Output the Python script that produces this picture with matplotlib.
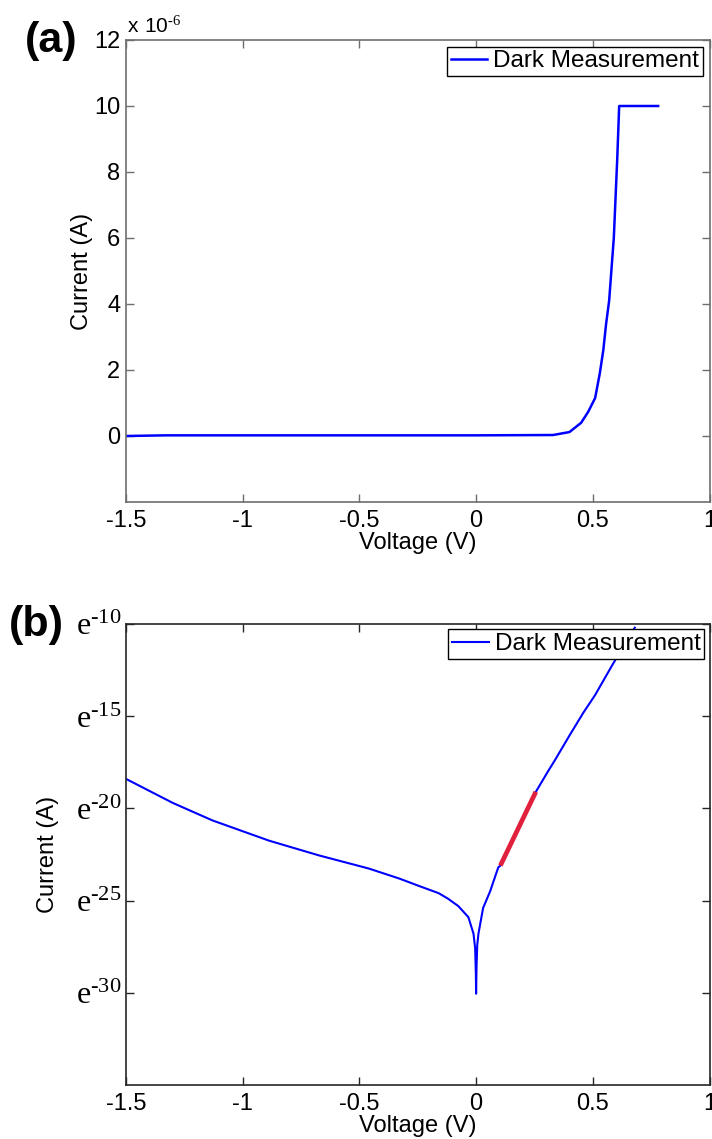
import numpy as np
import matplotlib
matplotlib.use("Agg")
import matplotlib.pyplot as plt

plt.rcParams['font.family'] = ['Liberation Sans', 'DejaVu Sans']
plt.rcParams['axes.unicode_minus'] = False
plt.rcParams['mathtext.fontset'] = 'custom'
plt.rcParams['mathtext.rm'] = 'Liberation Serif'
plt.rcParams['mathtext.sf'] = 'Liberation Sans'

# ---- data (a): linear current, units of 1e-6 A ----
volt_a = [-1.5, -1.33, -1.0, -0.5, 0.0, 0.33, 0.40, 0.45, 0.48, 0.51, 0.53,
          0.545, 0.557, 0.57, 0.59, 0.605, 0.613, 0.70, 0.78]
curr_a = [0.0, 0.02, 0.02, 0.02, 0.02, 0.03, 0.12, 0.40, 0.73, 1.15, 1.90,
          2.60, 3.40, 4.10, 6.0, 8.45, 10.0, 10.0, 10.0]

# ---- data (b): natural log of |current| ----
volt_b = [-1.5, -1.3, -1.13, -0.887, -0.673, -0.46, -0.33, -0.246, -0.16,
          -0.12, -0.076, -0.033, -0.011, -0.004, -0.001, 0.0, 0.002, 0.005,
          0.01, 0.03, 0.06, 0.095, 0.104, 0.18, 0.256, 0.31, 0.337, 0.40,
          0.46, 0.51, 0.587, 0.68]
lncurr_b = [-18.4, -19.7, -20.65, -21.75, -22.55, -23.26, -23.8, -24.2, -24.6,
            -24.9, -25.3, -25.9, -26.8, -27.6, -29.0, -30.05, -28.5, -27.4,
            -26.8, -25.4, -24.5, -23.2, -23.1, -21.1, -19.1, -17.95, -17.4,
            -16.05, -14.8, -13.85, -12.15, -10.2]
fit_volt = [0.104, 0.256]
fit_lncurr = [-23.1, -19.1]

xticks = [-1.5, -1, -0.5, 0, 0.5, 1]
xticklabels = ['-1.5', '-1', '-0.5', '0', '0.5', '1']
yticks_a = [0, 2, 4, 6, 8, 10, 12]
yticks_b = [-30, -25, -20, -15, -10]

W, H = 712, 1139
fig = plt.figure(figsize=(W / 100, H / 100), dpi=100)

def box(l, t, r, b):
    return [l / W, 1 - b / H, (r - l) / W, (b - t) / H]

ax1 = fig.add_axes(box(126, 40, 709.5, 502))
ax2 = fig.add_axes(box(126, 624, 709.5, 1085))

blue = '#0000ff'
ax1.plot(volt_a, curr_a, color=blue, lw=1.8, label='Dark Measurement')
ax2.plot(volt_b, lncurr_b, color=blue, lw=1.5, label='Dark Measurement')
ax2.plot(fit_volt, fit_lncurr, color='#e0203c', lw=3.4, solid_capstyle='butt')

ax1.set_ylim(-2, 12)
ax2.set_ylim(-35, -10)
for ax, sc in ((ax1, '#6e6e6e'), (ax2, '#262626')):
    ax.set_xlim(-1.5, 1)
    ax.set_xticks(xticks)
    ax.set_xticklabels(xticklabels)
    ax.tick_params(direction='in', length=6, width=1, top=True, right=True,
                   labelsize=17, colors=sc, labelcolor='black')
    ax.tick_params(axis='x', pad=6)
    for s in ax.spines.values():
        s.set_color(sc)
        s.set_linewidth(1.2)
    ax.set_xlabel('Voltage (V)', fontsize=17, labelpad=0)
    ax.set_ylabel('Current (A)', fontsize=17)

ax1.set_yticks(yticks_a)
ax1.set_yticklabels([str(v) for v in yticks_a])
ax1.tick_params(axis='y', pad=4)
ax1.yaxis.set_label_coords(-0.056, 0.5)

ax2.set_yticks(yticks_b)
ax2.set_yticklabels([r'$\mathrm{e^{\text{%d}}}$' % v for v in yticks_b], fontsize=23)
ax2.tick_params(axis='y', pad=3)
ax2.yaxis.set_label_coords(-0.115, 0.5)

for ax, pad in ((ax1, 0.28), (ax2, 0.22)):
    leg = ax.legend(loc='upper right', fontsize=17.5, frameon=True, fancybox=False,
                    handlelength=1.5, handletextpad=0.25, borderpad=0.15,
                    borderaxespad=pad)
    fr = leg.get_frame()
    fr.set_edgecolor('black')
    fr.set_linewidth(1.0)
    fr.set_alpha(1)

fig.text(127 / W, 1 - 33 / H, r'$\mathsf{x\ 10^{\text{-6}}}$', fontsize=15,
         ha='left', va='baseline')
fig.text(25 / W, 1 - 52 / H, '(a)', fontsize=31, fontweight='bold',
         ha='left', va='baseline')
fig.text(9 / W, 1 - 636 / H, '(b)', fontsize=31, fontweight='bold',
         ha='left', va='baseline')

fig.savefig('out.png', dpi=100)
